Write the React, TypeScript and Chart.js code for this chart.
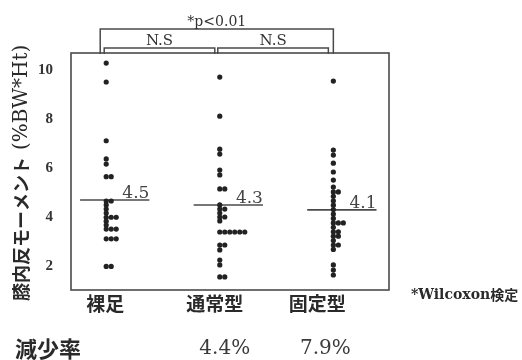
import { useEffect, useRef } from "react";
import { Chart, registerables } from "chart.js";

Chart.register(...registerables);

// ---- data ----
const categories = ["裸足", "通常型", "固定型"];

const barefootValues = [
  10.07, 9.3, 6.91, 6.17, 5.96, 5.45, 5.45, 4.46, 4.46, 4.3, 4.13, 3.97, 3.8,
  3.8, 3.8, 3.64, 3.48, 3.32, 3.32, 3.32, 2.92, 2.92, 2.92, 1.8, 1.8,
];
const standardValues = [
  9.5, 7.91, 6.57, 6.37, 5.72, 5.52, 4.95, 4.95, 4.3, 4.13, 4.13, 3.97, 3.81,
  3.81, 3.65, 3.2, 3.2, 3.2, 3.2, 3.2, 3.2, 2.67, 2.67, 2.47, 2.06, 1.86, 1.37,
  1.37,
];
const fixedValues = [
  9.34, 6.53, 6.33, 6.0, 5.64, 5.31, 5.03, 4.83, 4.83, 4.65, 4.47, 4.29, 4.11,
  3.93, 3.75, 3.57, 3.57, 3.57, 3.39, 3.21, 3.21, 3.03, 3.03, 2.85, 2.67, 2.67,
  2.49, 1.86, 1.65, 1.45,
];

const meanValues = [4.5, 4.3, 4.1];
const meanLabels = ["4.5", "4.3", "4.1"];

const yTickValues = [2, 4, 6, 8, 10];
const yTitleJa = "膝内反モーメント";
const yTitleUnit = "(%BW*Ht)";

const comparisons = [
  { from: 0, to: 1, label: "N.S", level: 0 },
  { from: 1, to: 2, label: "N.S", level: 0 },
  { from: 0, to: 2, label: "*p<0.01", level: 1 },
];
const testNote = "*Wilcoxon";
const testNoteJa = "検定";

const reductionTitle = "減少率";
const reductionRates = ["", "4.4%", "7.9%"];

// ---- styling ----
const INK = "#222";
const LINE = "#4a4a4a";
const SERIF = "'DejaVu Serif', serif";
const SANS_JP = "'Noto Sans CJK JP', sans-serif";
const DOT_STEP = 0.044; // horizontal step between equal values (x units)
const MEAN_LEFT = 0.23;
const MEAN_RIGHT = 0.38;
const CAT_NUDGE = [-1, -5, -16];
const RATE_NUDGE = [0, 5, -8];

// dot plot: equal values are laid side by side to the right of the column
function dotColumn(values: number[], index: number) {
  const seen = new Map<number, number>();
  return values.map((v) => {
    const k = seen.get(v) ?? 0;
    seen.set(v, k + 1);
    return { x: index + 1 + k * DOT_STEP, y: v };
  });
}

const columns = [barefootValues, standardValues, fixedValues];

const annotate = {
  id: "annotate",
  afterDraw(chart: any) {
    const { ctx, chartArea: a, scales } = chart;
    const xs = scales.x;
    const ys = scales.y;
    const col = (i: number) => xs.getPixelForValue(i + 1);
    ctx.save();

    // frame
    ctx.strokeStyle = LINE;
    ctx.lineWidth = 1.6;
    ctx.strokeRect(a.left, a.top, a.right - a.left, a.bottom - a.top);

    // significance brackets
    ctx.fillStyle = "#333";
    ctx.textAlign = "center";
    ctx.textBaseline = "alphabetic";
    comparisons.forEach((c) => {
      const top = c.level === 0 ? a.top - 5 : a.top - 24;
      const left = c.level === 0 ? col(c.from) - 2 : col(c.from) - 6;
      const right = c.level === 0 ? col(c.to) - 5 : col(c.to);
      ctx.beginPath();
      ctx.moveTo(left, a.top + 1);
      ctx.lineTo(left, top);
      ctx.lineTo(right, top);
      ctx.lineTo(right, a.top + 1);
      ctx.lineWidth = 1.5;
      ctx.strokeStyle = LINE;
      ctx.stroke();
      ctx.font = c.level === 0 ? `15px ${SERIF}` : `14px ${SERIF}`;
      ctx.fillText(c.label, (left + right) / 2, top - 3);
    });

    // mean labels
    ctx.font = `17px ${SERIF}`;
    ctx.fillStyle = "#444";
    ctx.textAlign = "right";
    meanLabels.forEach((t, i) => {
      const px = xs.getPixelForValue(i + 1 + MEAN_RIGHT);
      ctx.fillText(t, px, ys.getPixelForValue(meanValues[i]) - 2);
    });

    // category labels
    ctx.font = `bold 19px ${SANS_JP}`;
    ctx.fillStyle = "#2a2a2a";
    ctx.textAlign = "center";
    ctx.textBaseline = "middle";
    categories.forEach((c, i) => {
      ctx.fillText(c, col(i) + CAT_NUDGE[i], 304);
    });

    // reduction row
    ctx.textAlign = "left";
    ctx.font = `bold 22px ${SANS_JP}`;
    ctx.fillText(reductionTitle, 15, 349);
    ctx.textAlign = "center";
    ctx.font = `20px ${SERIF}`;
    ctx.fillStyle = "#3a3a3a";
    reductionRates.forEach((r, i) => {
      if (r) ctx.fillText(r, col(i) + RATE_NUDGE[i], 349);
    });

    // test note
    ctx.textAlign = "left";
    ctx.fillStyle = "#2a2a2a";
    ctx.font = `bold 14px ${SERIF}`;
    ctx.fillText(testNote, 411, 295);
    const w = ctx.measureText(testNote).width;
    ctx.font = `bold 14px ${SANS_JP}`;
    ctx.fillText(testNoteJa, 411 + w, 295);

    // y-axis title
    ctx.translate(21, 301);
    ctx.rotate(-Math.PI / 2);
    ctx.textAlign = "left";
    ctx.textBaseline = "middle";
    ctx.font = `bold 18px ${SANS_JP}`;
    ctx.fillText(yTitleJa, 0, 0);
    const wj = ctx.measureText(yTitleJa).width;
    ctx.font = `20px ${SERIF}`;
    ctx.fillText(yTitleUnit, wj + 7, 1);

    ctx.restore();
  },
};

export default function App() {
  const ref = useRef<HTMLCanvasElement | null>(null);

  useEffect(() => {
    if (!ref.current) return;
    const dotSets = columns.map((vals, i) => ({
      type: "scatter" as const,
      data: dotColumn(vals, i),
      pointRadius: 2.6,
      pointBackgroundColor: INK,
      pointBorderWidth: 0,
      showLine: false,
    }));
    const meanSets = meanValues.map((m, i) => ({
      type: "line" as const,
      data: [
        { x: i + 1 - MEAN_LEFT, y: m },
        { x: i + 1 + MEAN_RIGHT, y: m },
      ],
      borderColor: LINE,
      borderWidth: 1.6,
      pointRadius: 0,
      fill: false,
    }));

    const chart = new Chart(ref.current, {
      type: "scatter",
      data: { datasets: [...dotSets, ...meanSets] as any },
      options: {
        animation: false,
        responsive: false,
        maintainAspectRatio: false,
        layout: { padding: { top: 53, right: 133, bottom: 70, left: 0 } },
        plugins: { legend: { display: false }, tooltip: { enabled: false } },
        scales: {
          x: { type: "linear", min: 0.69, max: 3.49, display: false },
          y: {
            type: "linear",
            min: 0.84,
            max: 10.48,
            afterBuildTicks: (s: any) => {
              s.ticks = yTickValues.map((v) => ({ value: v }));
            },
            afterFit: (s: any) => {
              s.width = 71;
            },
            grid: { display: false, drawTicks: false },
            border: { display: false },
            ticks: {
              padding: 18,
              labelOffset: 5,
              color: "#333",
              font: { family: "'Liberation Serif', serif", size: 15, weight: "bold" },
            },
          },
        },
      },
      plugins: [annotate],
    });
    return () => chart.destroy();
  }, []);

  return (
    <div style={{ position: "fixed", left: 0, top: 0, width: 522, height: 360, background: "#fff" }}>
      <canvas ref={ref} width={522} height={360} style={{ display: "block" }} />
    </div>
  );
}
